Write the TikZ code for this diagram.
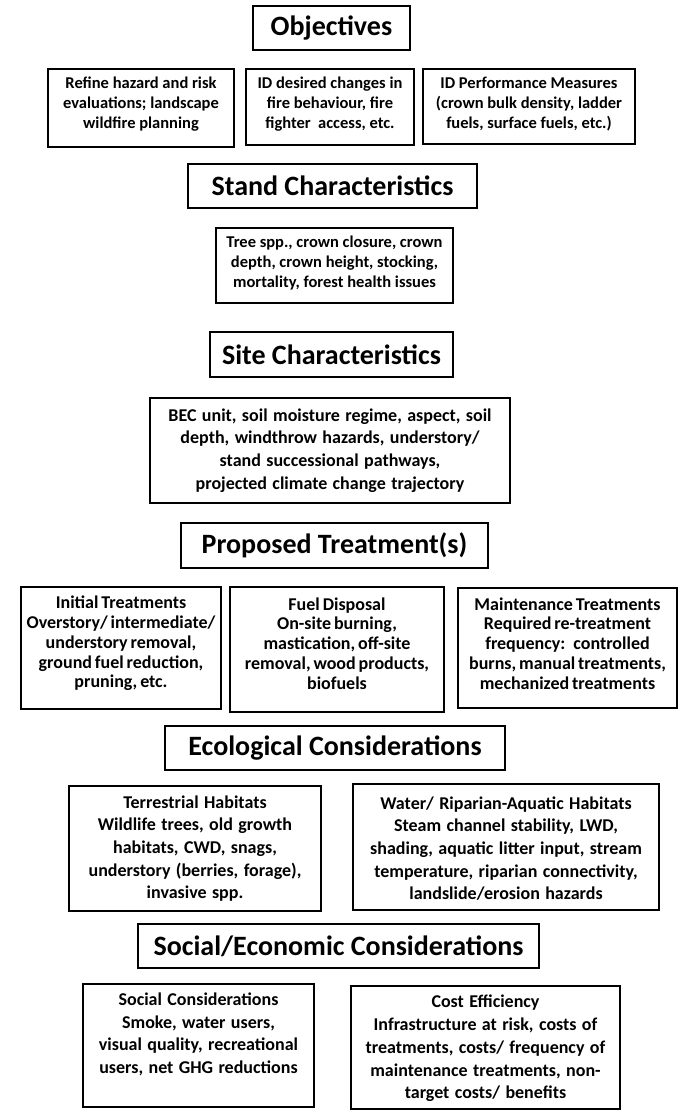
\documentclass[tikz,border=0pt]{standalone}
\usepackage{fontspec}
\setmainfont{Carlito}
\newcommand\widespacing{\spaceskip=0.3em plus 0.1em minus 0.05em\relax}
\newcommand\tightspacing{\spaceskip=0.16em plus 0.05em minus 0.02em\relax}
% #1 text style, #2 name, #3 centre, #4 width, #5 height, #6 text shift, #7 text
\newcommand\tbox[7]{%
  \node[boxbase, minimum width=#4pt, minimum height=#5pt] (#2) at (#3) {};
  \node[#1] (#2-text) at ([yshift=#6pt]#2.center) {#7};}
\begin{document}
\begin{tikzpicture}[x=1pt,y=1pt,
  boxbase/.style={draw=black, line width=2.2pt, inner sep=0pt, rectangle},
  titlebox/.style={boxbase, align=center, font=\fontsize{28}{33}\selectfont\bfseries},
  texta/.style={inner sep=0pt, align=center, font=\fontsize{16.5}{20.3}\selectfont\bfseries},
  textb/.style={inner sep=0pt, align=center, font=\fontsize{18}{19.8}\selectfont\bfseries\tightspacing},
  textc/.style={inner sep=0pt, align=center, font=\fontsize{18}{22.7}\selectfont\bfseries\widespacing},
  sz/.style 2 args={minimum width=#1pt, minimum height=#2pt}
]
\useasboundingbox (0,0) rectangle (682,-1110);

\node[titlebox, sz={157}{44}] (obj) at (331.5,-28) {Objectives};

\tbox{texta}{r1a}{141,-108}{186}{78}{4}{Refine hazard and risk\\ evaluations; landscape\\ wildfire planning}
\tbox{texta}{r1b}{330,-107}{168}{76}{3}{ID desired changes in\\ fire behaviour, fire\\ fighter\ \ access, etc.}
\tbox{texta}{r1c}{529,-106.5}{212}{75}{2.5}{ID Performance Measures\\ (crown bulk density, ladder\\ fuels, surface fuels, etc.)}

\node[titlebox, sz={289}{44}] (stand) at (332.5,-186) {Stand Characteristics};
\tbox{texta}{tree}{334.5,-265.5}{237}{75}{2.5}{Tree spp., crown closure, crown\\ depth, crown height, stocking,\\ mortality, forest health issues}

\node[titlebox, sz={243}{45}] (site) at (331.5,-354.5) {Site Characteristics};
\tbox{textc}{bec}{330,-450.5}{360}{105}{0}{BEC unit, soil moisture regime, aspect, soil\\ depth, windthrow hazards, understory/\\ stand successional pathways,\\ projected climate change trajectory}

\node[titlebox, sz={307}{45}] (prop) at (334.5,-545.5) {Proposed Treatment(s)};

\tbox{textb}{r3a}{121,-648}{200}{122}{4.5}{Initial Treatments\\ Overstory/ intermediate/\\ understory removal,\\ ground fuel reduction,\\ pruning, etc.}
\tbox{textb}{r3b}{337,-649.5}{214}{125}{6}{Fuel Disposal\\ On-site burning,\\ mastication, off-site\\ removal, wood products,\\ biofuels}
\tbox{textb}{r3c}{567.5,-648}{219}{120}{4.5}{Maintenance Treatments\\ Required re-treatment\\ frequency:\hspace{0.45em}controlled\\ burns, manual treatments,\\ mechanized treatments}

\node[titlebox, sz={340}{44}] (eco) at (335,-748) {Ecological Considerations};

\tbox{textc}{r4a}{195,-848.5}{252}{125}{0}{Terrestrial Habitats\\ Wildlife trees, old growth\\ habitats, CWD, snags,\\ understory (berries, forage),\\ invasive spp.}
\tbox{textc}{r4b}{506,-847}{306}{126}{-1.5}{Water/ Riparian-Aquatic Habitats\\ Steam channel stability, LWD,\\ shading, aquatic litter input, stream\\ temperature, riparian connectivity,\\ landslide/erosion hazards}

\node[titlebox, sz={401}{44}] (soceco) at (338.5,-946) {Social/Economic Considerations};

\tbox{textc}{r5a}{198.5,-1045.5}{231}{123}{11}{Social Considerations\\ Smoke, water users,\\ visual quality, recreational\\ users, net GHG reductions}
\tbox{textc}{r5b}{485.5,-1047.5}{269}{123}{-1}{Cost Efficiency\\ Infrastructure at risk, costs of\\ treatments, costs/ frequency of\\ maintenance treatments, non-\\ target costs/ benefits}
\end{tikzpicture}
\end{document}
